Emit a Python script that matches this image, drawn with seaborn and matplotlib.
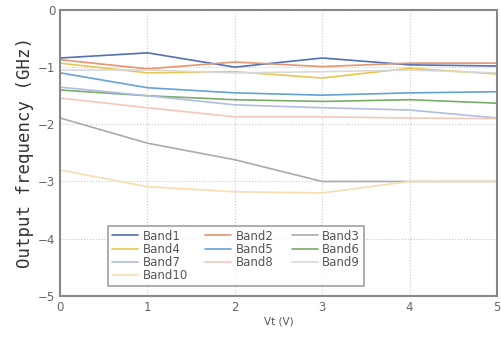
import matplotlib
matplotlib.use("Agg")
import matplotlib.pyplot as plt
import seaborn as sns
import pandas as pd
from matplotlib.ticker import MultipleLocator

vt = [0, 1, 2, 3, 4, 5]
bands = ["Band1", "Band2", "Band3", "Band4", "Band5",
         "Band6", "Band7", "Band8", "Band9", "Band10"]
band1 = [-0.84, -0.75, -1.00, -0.84, -0.96, -0.98]
band2 = [-0.87, -1.03, -0.91, -0.99, -0.93, -0.93]
band3 = [-1.89, -2.33, -2.62, -3.00, -3.00, -3.00]
band4 = [-0.93, -1.10, -1.08, -1.19, -1.02, -1.12]
band5 = [-1.10, -1.36, -1.45, -1.49, -1.45, -1.43]
band6 = [-1.40, -1.50, -1.57, -1.60, -1.57, -1.63]
band7 = [-1.35, -1.50, -1.66, -1.71, -1.75, -1.89]
band8 = [-1.54, -1.71, -1.87, -1.87, -1.89, -1.90]
band9 = [-1.05, -1.05, -1.10, -1.08, -1.05, -1.10]
band10 = [-2.80, -3.09, -3.18, -3.20, -3.00, -3.00]
values = [band1, band2, band3, band4, band5, band6, band7, band8, band9, band10]
colors = ["#5470b0", "#e8956e", "#a8aab4", "#e9c552", "#64a2d8",
          "#78ac68", "#b0bde4", "#f3c8ba", "#d8d8d8", "#f9ddb0"]

rows = []
for b, vals in zip(bands, values):
    for x, y in zip(vt, vals):
        rows.append({"Vt": x, "freq": y, "band": b})
df = pd.DataFrame(rows)

sns.set_style("white")
fig = plt.figure(figsize=(5.01, 3.44), dpi=100)
ax = fig.add_axes([0.12, 0.14, 0.872, 0.831])

sns.lineplot(data=df, x="Vt", y="freq", hue="band", hue_order=bands,
             palette=dict(zip(bands, colors)), linewidth=1.2, ax=ax,
             legend=False)

ax.set_xlim(0, 5)
ax.set_ylim(-5, 0)
ax.xaxis.set_major_locator(MultipleLocator(1))
ax.xaxis.set_minor_locator(MultipleLocator(0.5))
ax.yaxis.set_major_locator(MultipleLocator(1))
ax.yaxis.set_minor_locator(MultipleLocator(0.5))
ax.tick_params(which="both", direction="in", colors="#666666",
               labelsize=8.5, length=3, width=1)
ax.tick_params(which="minor", length=2)
ax.grid(True, which="major", linestyle=":", color="#c8c8c8", linewidth=0.8)
for s in ax.spines.values():
    s.set_color("#888888")
    s.set_linewidth(1.5)

ax.set_xlabel("Vt (V)", fontsize=7.5, color="#555555", labelpad=2)
ax.set_ylabel("Output frequency (GHz)", fontsize=12.5, family="DejaVu Sans Mono",
              color="#333333", labelpad=3)

lines = ax.get_lines()
handle_map = {b: l for b, l in zip(bands, lines[:len(bands)])}
order = ["Band1", "Band4", "Band7", "Band10",
         "Band2", "Band5", "Band8",
         "Band3", "Band6", "Band9"]
leg = ax.legend([handle_map[b] for b in order], order, ncol=3,
                loc="lower left", bbox_to_anchor=(0.11, 0.035),
                fontsize=8.5, frameon=True, fancybox=False,
                handlelength=2.2, handletextpad=0.4, columnspacing=1.5,
                labelspacing=0.02, borderpad=0.3, borderaxespad=0)
leg.get_frame().set_edgecolor("#888888")
leg.get_frame().set_linewidth(1.2)
for t in leg.get_texts():
    t.set_color("#555555")

fig.savefig("out.png", dpi=100)
